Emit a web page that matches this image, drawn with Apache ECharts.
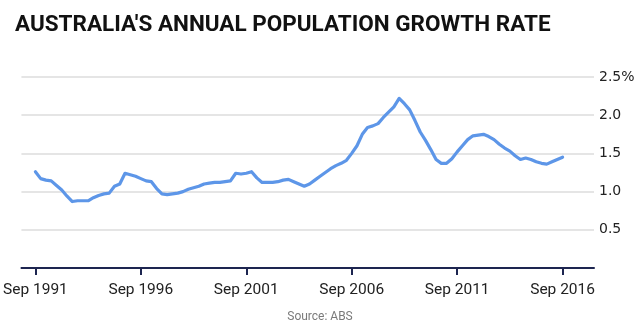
<!DOCTYPE html>
<html>
<head>
<meta charset="utf-8">
<script src="https://cdn.jsdelivr.net/npm/echarts@6/dist/echarts.min.js"></script>
<style>html,body{margin:0;padding:0;background:#fff}#c{width:640px;height:334px}</style>
</head>
<body>
<div id="c"></div>
<script>
// Quarterly annual growth rate (%), Sep 1991 .. Sep 2016
var growth = [
  1.26, 1.17, 1.15, 1.14, 1.08, 1.02, 0.94, 0.87, 0.88, 0.88,
  0.88, 0.92, 0.95, 0.97, 0.98, 1.07, 1.10, 1.24, 1.22, 1.20,
  1.17, 1.14, 1.13, 1.04, 0.97, 0.96, 0.97, 0.98, 1.00, 1.03,
  1.05, 1.07, 1.10, 1.11, 1.12, 1.12, 1.13, 1.14, 1.24, 1.23,
  1.24, 1.26, 1.18, 1.12, 1.12, 1.12, 1.13, 1.15, 1.16, 1.13,
  1.10, 1.07, 1.10, 1.15, 1.20, 1.25, 1.30, 1.34, 1.37, 1.41,
  1.50, 1.60, 1.75, 1.84, 1.86, 1.89, 1.97, 2.04, 2.11, 2.22,
  2.15, 2.07, 1.93, 1.78, 1.67, 1.55, 1.42, 1.37, 1.37, 1.43,
  1.52, 1.60, 1.68, 1.73, 1.74, 1.75, 1.72, 1.68, 1.62, 1.57,
  1.53, 1.47, 1.42, 1.44, 1.42, 1.39, 1.37, 1.36, 1.39, 1.42,
  1.45
];
var xTickIndex = [0, 20, 40, 60, 80, 100];
var xTickLabels = ['Sep 1991', 'Sep 1996', 'Sep 2001', 'Sep 2006', 'Sep 2011', 'Sep 2016'];
var yTickLabels = {'0.5': '0.5', '1': '1.0', '1.5': '1.5', '2': '2.0', '2.5': '2.5%'};

var seriesData = growth.map(function (v, i) { return [i, v]; });

var chart = echarts.init(document.getElementById('c'), null, {renderer: 'canvas'});
chart.setOption({
  animation: false,
  backgroundColor: '#ffffff',
  title: [{
    text: "AUSTRALIA'S ANNUAL POPULATION GROWTH RATE",
    left: 15, top: 14, padding: 0,
    textStyle: {fontFamily: 'Roboto, sans-serif', fontSize: 22.5, fontWeight: 'bold', color: '#111'}
  }, {
    text: 'Source: ABS',
    left: 'center', top: 311, padding: 0,
    textStyle: {fontFamily: 'Roboto, sans-serif', fontSize: 12, fontWeight: 'normal', color: '#7a7a7a'}
  }],
  grid: {left: 20, right: 46, top: 77, bottom: 66, containLabel: false},
  xAxis: {
    type: 'value',
    min: -2.65, max: 105.96,
    splitLine: {show: false},
    axisLine: {show: true, onZero: false, lineStyle: {color: '#1d2550', width: 2}},
    axisTick: {show: true, length: 7, customValues: xTickIndex, lineStyle: {color: '#1d2550', width: 2}},
    axisLabel: {
      show: true, margin: 14, customValues: xTickIndex,
      fontFamily: 'Roboto, sans-serif', fontSize: 15.5, color: '#222',
      formatter: function (v) { var k = xTickIndex.indexOf(Math.round(v)); return k >= 0 ? xTickLabels[k] : ''; }
    }
  },
  yAxis: {
    type: 'value',
    position: 'right',
    min: 0, max: 2.5, interval: 0.5,
    axisLine: {show: false},
    axisTick: {show: false},
    splitLine: {show: true, lineStyle: {color: '#dcdcdc', width: 1.5}},
    axisLabel: {
      show: true, margin: 5, align: 'left', verticalAlign: 'middle', padding: [0, 0, 7, 0],
      fontFamily: '"DejaVu Sans", sans-serif', fontSize: 14, color: '#222',
      formatter: function (v) { var key = String(Math.round(v * 10) / 10); return yTickLabels[key] || ''; }
    }
  },
  series: [{
    type: 'line',
    data: seriesData,
    showSymbol: false,
    symbol: 'none',
    smooth: false,
    lineStyle: {color: '#5d96e8', width: 3.2, cap: 'round', join: 'round'},
    z: 3
  }]
});
</script>
</body>
</html>
